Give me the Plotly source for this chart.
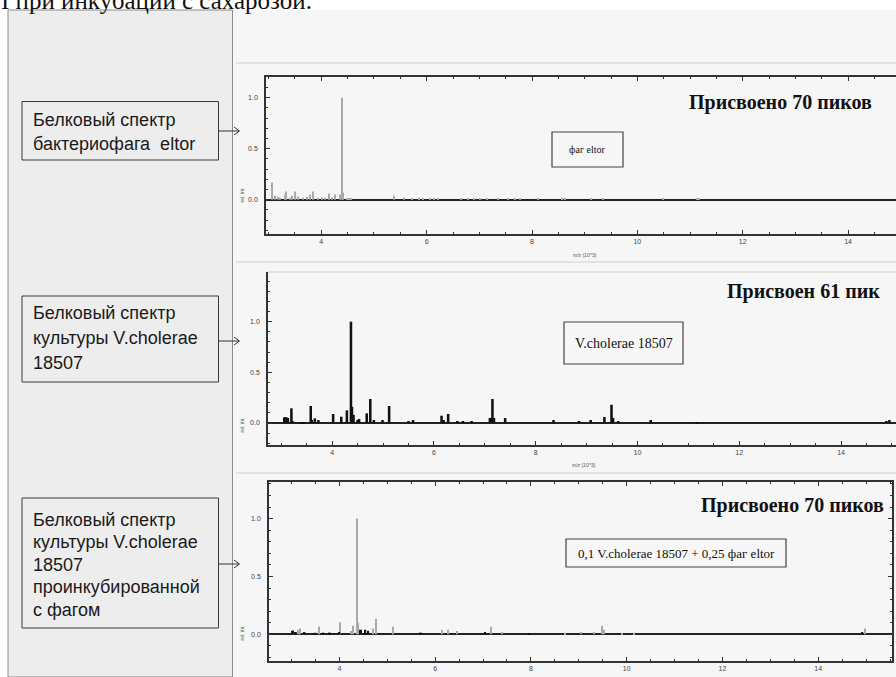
import plotly.graph_objects as go

W, H = 896, 677

# ---------------- data ----------------
# Panel 1: bacteriophage eltor (gray peaks)
p1_mz = [3.06, 3.13, 3.17, 3.22, 3.31, 3.33, 3.40, 3.45, 3.51, 3.56, 3.66, 3.73, 3.78, 3.84,
         3.93, 4.01, 4.07, 4.15, 4.20, 4.26, 4.36, 4.39, 4.41, 4.48, 4.52, 4.57, 5.39, 5.57,
         5.73, 5.85, 5.94, 6.06, 6.14, 6.22, 6.66, 6.78, 6.90, 7.02, 7.15, 7.35, 7.55, 7.67,
         7.77, 8.11, 8.58, 8.62, 9.12, 9.35, 10.49, 11.14, 11.17]
p1_int = [0.17, 0.04, 0.03, 0.02, 0.05, 0.08, 0.02, 0.04, 0.08, 0.03, 0.02, 0.03, 0.05, 0.08,
          0.02, 0.02, 0.02, 0.06, 0.02, 0.05, 0.05, 1.00, 0.07, 0.01, 0.01, 0.01, 0.04, 0.02,
          0.01, 0.01, 0.01, 0.01, 0.01, 0.01, 0.01, 0.01, 0.01, 0.01, 0.01, 0.01, 0.01, 0.01,
          0.01, 0.01, 0.01, 0.01, 0.01, 0.01, 0.01, 0.01, 0.01]

# Panel 2: V.cholerae 18507 culture (black peaks)
p2_mz = [3.06, 3.08, 3.10, 3.13, 3.20, 3.22, 3.38, 3.41, 3.44, 3.58, 3.60, 3.66, 3.73, 4.02,
         4.18, 4.29, 4.37, 4.39, 4.42, 4.50, 4.53, 4.68, 4.75, 4.82, 4.99, 5.12, 5.50, 5.59,
         6.15, 6.19, 6.28, 6.46, 6.57, 6.74, 7.10, 7.13, 7.15, 7.18, 7.40, 8.35, 8.85, 9.08,
         9.35, 9.49, 9.52, 9.62, 10.26, 11.17, 14.89, 14.95]
p2_int = [0.056, 0.056, 0.056, 0.05, 0.145, 0.02, 0.01, 0.01, 0.01, 0.168, 0.03, 0.046, 0.03, 0.089,
          0.062, 0.125, 1.0, 0.16, 0.08, 0.03, 0.04, 0.095, 0.237, 0.03, 0.03, 0.168, 0.02, 0.03,
          0.072, 0.03, 0.089, 0.02, 0.02, 0.02, 0.05, 0.05, 0.237, 0.05, 0.049, 0.03, 0.02, 0.03,
          0.059, 0.18, 0.05, 0.02, 0.03, 0.01, 0.02, 0.03]

# Panel 3: culture incubated with phage (gray = phage-like peaks, black = culture peaks)
p3g_mz = [3.03, 3.13, 3.18, 3.58, 4.02, 4.24, 4.29, 4.36, 4.39, 4.46, 4.70, 4.76, 5.13, 6.15,
          6.27, 6.46, 7.17, 7.39, 7.97, 8.72, 9.05, 9.32, 9.48, 9.52, 9.90, 10.16, 14.97]
p3g_int = [0.04, 0.04, 0.05, 0.069, 0.104, 0.03, 0.075, 1.0, 0.10, 0.04, 0.05, 0.133, 0.066, 0.04,
           0.04, 0.03, 0.066, 0.02, 0.01, 0.015, 0.02, 0.02, 0.075, 0.04, 0.01, 0.015, 0.05]
p3b_mz = [3.03, 3.09, 3.27, 3.49, 3.66, 3.80, 4.00, 4.45, 4.54, 4.60, 5.70, 7.04, 7.96, 14.92]
p3b_int = [0.03, 0.02, 0.02, 0.015, 0.015, 0.015, 0.02, 0.04, 0.04, 0.03, 0.015, 0.02, 0.01, 0.02]

panel_titles = ["Присвоено 70 пиков", "Присвоен 61 пик", "Присвоено 70 пиков"]
sample_labels = ["фаг eltor", "V.cholerae 18507", "0,1 V.cholerae 18507 + 0,25 фаг eltor"]
left_texts = [
    ["Белковый спектр", "бактериофага  eltor"],
    ["Белковый спектр", "культуры V.cholerae", "18507"],
    ["Белковый спектр", "культуры V.cholerae", "18507", "проинкубированной", "с фагом"],
]
y_ticks = [0.0, 0.5, 1.0]
y_ticktext = ["0.0", "0.5", "1.0"]
top_text = "I при инкубации с сахарозой."


def px(x):
    return x / W


def py(y):
    return 1 - y / H


fig = go.Figure()

fig.add_trace(go.Bar(x=p1_mz, y=p1_int, width=0.022, marker=dict(color="#a9a9a9", line=dict(width=0)),
                     xaxis="x", yaxis="y", showlegend=False))
fig.add_trace(go.Bar(x=p2_mz, y=p2_int, width=0.05, marker=dict(color="#111111", line=dict(width=0)),
                     xaxis="x2", yaxis="y2", showlegend=False))
fig.add_trace(go.Bar(x=p3g_mz, y=p3g_int, width=0.022, marker=dict(color="#a9a9a9", line=dict(width=0)),
                     xaxis="x3", yaxis="y3", showlegend=False))
fig.add_trace(go.Bar(x=p3b_mz, y=p3b_int, width=0.04, marker=dict(color="#111111", line=dict(width=0)),
                     xaxis="x3", yaxis="y3", showlegend=False))

tickfont = dict(family="Liberation Sans, Arial", size=7, color="#444")


def xcfg(dom, rng, anchor, mirror):
    return dict(domain=dom, range=rng, anchor=anchor, tickmode="linear", tick0=0, dtick=2,
                ticks="inside", ticklen=4, tickcolor="#333", tickwidth=1,
                minor=dict(dtick=0.5, tick0=0, ticks="inside", ticklen=2.5, tickcolor="#333"),
                showline=True, linecolor="#333", linewidth=1.5, mirror=mirror,
                showgrid=False, zeroline=False, tickfont=tickfont, fixedrange=True)


def ycfg(dom, rng, anchor, mirror):
    return dict(domain=dom, range=rng, anchor=anchor, tickmode="array", tickvals=y_ticks,
                ticktext=y_ticktext, ticks="inside", ticklen=4, tickcolor="#333", tickwidth=1,
                minor=dict(dtick=0.1, tick0=0, ticks="inside", ticklen=2.5, tickcolor="#333"),
                showline=True, linecolor="#333", linewidth=1.5, mirror=mirror,
                showgrid=False, zeroline=True, zerolinecolor="#222", zerolinewidth=1.6,
                tickfont=tickfont, ticklabelstandoff=5, fixedrange=True)


# panel geometry (pixels)
P1 = dict(x0=266, x1=896, y0=77, y1=234, xr=[2.95, 14.91], yr=[-0.336, 1.203])
P2 = dict(x0=268, x1=896, y0=272, y1=445, xr=[2.74, 15.08], yr=[-0.217, 1.49])
P3 = dict(x0=269, x1=892, y0=482, y1=661, xr=[2.53, 15.54], yr=[-0.23, 1.316])


def dom(P):
    return [px(P["x0"]), min(1.0, px(P["x1"]))], [py(P["y1"]), py(P["y0"])]


d1x, d1y = dom(P1)
d2x, d2y = dom(P2)
d3x, d3y = dom(P3)

fig.update_layout(
    width=W, height=H, margin=dict(l=0, r=0, t=0, b=0),
    paper_bgcolor="white", plot_bgcolor="#f6f6f6", barmode="overlay",
    xaxis=xcfg(d1x, P1["xr"], "y", "allticks"),
    yaxis=ycfg(d1y, P1["yr"], "x", False),
    xaxis2=xcfg(d2x, P2["xr"], "y2", False),
    yaxis2=ycfg(d2y, P2["yr"], "x2", False),
    xaxis3=xcfg(d3x, P3["xr"], "y3", "allticks"),
    yaxis3=ycfg(d3y, P3["yr"], "x3", "allticks"),
)

shapes = []
# backgrounds
shapes.append(dict(type="rect", xref="paper", yref="paper", x0=px(233), x1=px(896), y0=py(677), y1=py(10),
                   fillcolor="#f6f6f6", line=dict(width=0), layer="below"))
shapes.append(dict(type="rect", xref="paper", yref="paper", x0=px(8), x1=px(232.5), y0=py(677), y1=py(10),
                   fillcolor="#ededed", line=dict(color="#8c8c8c", width=1), layer="below"))
# faint separators between the spectrum windows
for yy in [63, 262, 473]:
    shapes.append(dict(type="line", xref="paper", yref="paper", x0=px(236), x1=px(896), y0=py(yy), y1=py(yy),
                       line=dict(color="#e2e2e2", width=2), layer="below"))
# faint top border of panel 2
shapes.append(dict(type="line", xref="paper", yref="paper", x0=px(P2["x0"]), x1=px(896), y0=py(272), y1=py(272),
                   line=dict(color="#d4d4d4", width=1), layer="below"))

# sample boxes inside the panels
boxes = [(552, 623, 132, 167), (564, 683, 322, 364), (566, 786, 539, 567)]
for (bx0, bx1, by0, by1) in boxes:
    shapes.append(dict(type="rect", xref="paper", yref="paper", x0=px(bx0), x1=px(bx1), y0=py(by1), y1=py(by0),
                       fillcolor="#f7f7f7", line=dict(color="#444", width=1.2)))

# left description boxes
lboxes = [(22, 218.5, 101.5, 160), (22, 218.5, 296, 382), (22, 218.5, 498, 628)]
for (bx0, bx1, by0, by1) in lboxes:
    shapes.append(dict(type="rect", xref="paper", yref="paper", x0=px(bx0), x1=px(bx1), y0=py(by1), y1=py(by0),
                       fillcolor="#ededed", line=dict(color="#3a3a3a", width=1)))

# arrows from boxes to spectra
for ay in [131, 341, 564]:
    path = (f"M {px(218.5)},{py(ay)} L {px(239)},{py(ay)} "
            f"M {px(234)},{py(ay - 4)} L {px(239.5)},{py(ay)} L {px(234)},{py(ay + 4)}")
    shapes.append(dict(type="path", xref="paper", yref="paper", path=path, line=dict(color="#333", width=1)))

annotations = []
# top cut-off line of document text
annotations.append(dict(text=top_text, x=px(-1), y=py(1), xref="paper", yref="paper", xanchor="left",
                        yanchor="middle", showarrow=False,
                        font=dict(family="Liberation Serif, Times New Roman", size=25, color="#111")))

# panel titles
title_pos = [(874, 102), (882, 291), (886, 505)]
for t, (tx, ty) in zip(panel_titles, title_pos):
    annotations.append(dict(text=f"<b>{t}</b>", x=px(tx), y=py(ty), xref="paper", yref="paper",
                            xanchor="right", yanchor="middle", showarrow=False,
                            font=dict(family="Liberation Serif, Times New Roman", size=20, color="#111")))

# sample labels
lab_pos = [((552 + 623) / 2, 150, 10), ((564 + 683) / 2, 343, 14), ((566 + 786) / 2, 553, 13)]
for t, (tx, ty, fs) in zip(sample_labels, lab_pos):
    annotations.append(dict(text=t, x=px(tx), y=py(ty), xref="paper", yref="paper", xanchor="center",
                            yanchor="middle", showarrow=False,
                            font=dict(family="Liberation Serif, Times New Roman", size=fs, color="#111")))

# left box text lines
line_y = [[119.5, 143.5], [313, 338, 362.5], [519.5, 542, 564.5, 587, 610]]
for lines, ys in zip(left_texts, line_y):
    for t, ty in zip(lines, ys):
        annotations.append(dict(text=t, x=px(31), y=py(ty), xref="paper", yref="paper", xanchor="left",
                                yanchor="middle", showarrow=False,
                                font=dict(family="Liberation Sans, Arial", size=18, color="#1a1a1a")))

# tiny axis titles
for ty in [195, 425, 633]:
    annotations.append(dict(text="rel. int.", x=px(241.5), y=py(ty), xref="paper", yref="paper",
                            xanchor="center", yanchor="middle", textangle=-90, showarrow=False,
                            font=dict(family="Liberation Sans, Arial", size=5, color="#555")))
for tx, ty in [(585, 255.5), (583.5, 465)]:
    annotations.append(dict(text="m/z (10^3)", x=px(tx), y=py(ty), xref="paper", yref="paper",
                            xanchor="center", yanchor="middle", showarrow=False,
                            font=dict(family="Liberation Sans, Arial", size=5, color="#555")))

fig.update_layout(shapes=shapes, annotations=annotations)

fig.write_html("out.html", config={"displayModeBar": False})
